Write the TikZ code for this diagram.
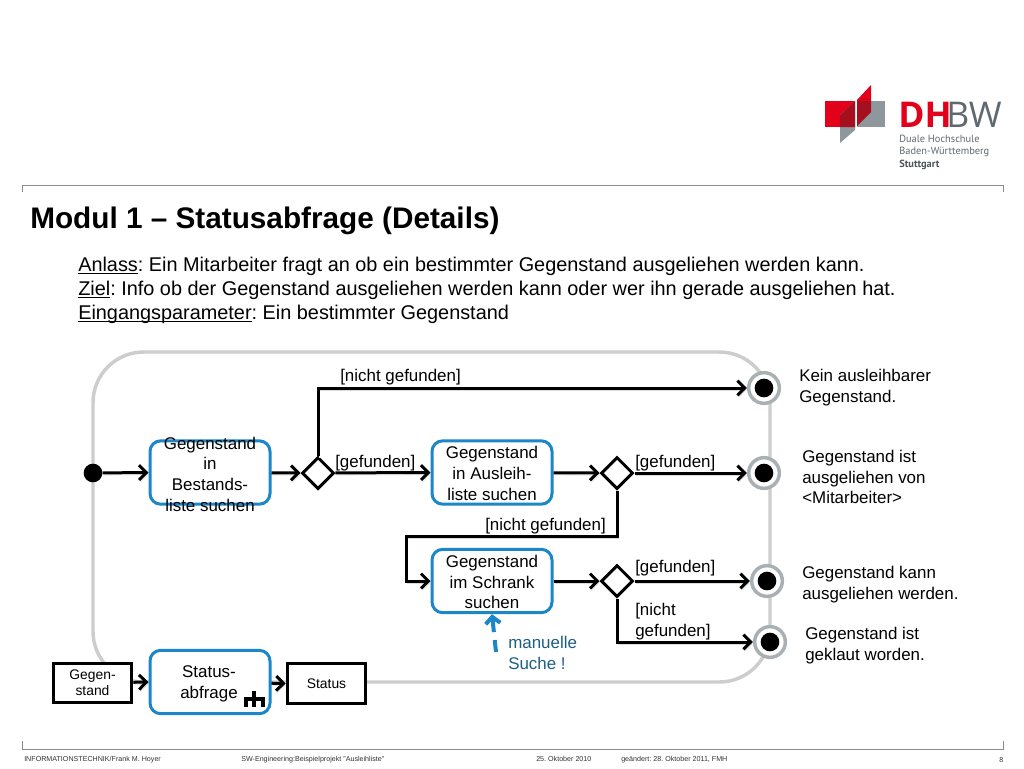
\documentclass[tikz,border=0pt]{standalone}
\usepackage{fontspec}
\setmainfont{Liberation Sans}
\newfontfamily\logofont{Open Sans}
\newfontfamily\logosub{PT Sans}
\usetikzlibrary{arrows.meta,shapes.geometric}
\newcommand{\fsz}[2]{\fontsize{#1}{#2}\selectfont}
\newcommand{\ulflat}[1]{{\setbox0\hbox{#1}\dp0=0pt \underline{\box0}}}
\definecolor{frameg}{HTML}{CDCDCD}
\definecolor{ringg}{HTML}{A9B0B4}
\definecolor{boxblue}{HTML}{1B87C9}
\definecolor{noteblue}{HTML}{1D5F83}
\definecolor{dhred}{HTML}{E2001A}
\definecolor{dhdark}{HTML}{A50F1E}
\definecolor{dhgray}{HTML}{8E979C}
\definecolor{logotxt}{HTML}{5F6A70}
\tikzset{
  x=0.75pt,y=-0.75pt,
  activity/.style={draw=boxblue,line width=2.25pt,rounded corners=8pt,fill=white,inner sep=0pt,minimum width=90pt,minimum height=47.5pt},
  acttext/.style={align=center,inner sep=0pt,font=\fsz{12.7}{15.5}},
  objbox/.style={draw=black,line width=2.25pt,fill=white,align=center,inner sep=0pt,minimum width=59pt,minimum height=29.5pt,font=\fsz{10.4}{12.2}},
  decide/.style={draw=black,line width=2.25pt,diamond,aspect=1,fill=white,inner sep=0pt,minimum width=24pt,minimum height=24pt},
  startdot/.style={circle,fill=black,inner sep=0pt,minimum size=14pt},
  finalring/.style={circle,draw=ringg,line width=2.6pt,fill=white,inner sep=0pt,minimum size=23pt},
  finaldot/.style={circle,fill=black,inner sep=0pt,minimum size=14pt},
  flow/.style={draw=black,line width=2.25pt,-{Straight Barb[length=5.5pt,width=11pt,line width=2.25pt]},
    preaction={draw=black!14,transform canvas={xshift=1pt,yshift=-1.6pt}}},
  lbl/.style={anchor=west,inner sep=0pt,align=left,font=\fsz{12.7}{15.7}},
  body/.style={anchor=base west,inner sep=0pt,font=\fsz{14.9}{17}},
  foot/.style={anchor=base west,inner sep=0pt,font=\fsz{5.35}{6},text=black!80},
  rule/.style={draw=black!45,line width=0.75pt},
}
\begin{document}
\frenchspacing
\begin{tikzpicture}
\useasboundingbox (0,0) rectangle (1024,768);
\fill[white] (0,0) rectangle (1024,768);
% header and footer rules
\draw[rule] (22,192) -- (22,185) -- (1003,185) -- (1003,192);
\draw[rule] (22,741) -- (22,749) -- (1003,749) -- (1003,741);
% logo
\fill[dhred] (825,101) rectangle (855,127);
\fill[dhgray] (857,101) rectangle (885,127);
\fill[dhgray] (840,115) -- (855,101) -- (855,130) -- (840,143) -- cycle;
\fill[dhdark] (840,115) -- (855,101) -- (855,127) -- (840,127) -- cycle;
\fill[dhred] (857,100) -- (871,85) -- (871,101) -- (857,101) -- cycle;
\fill[dhdark] (857,101) -- (871,101) -- (871,112) -- (857,126) -- cycle;
\node[anchor=base west,inner sep=0pt,text=dhred] (logoDH) at (898,127) {\logofont\fsz{26.6}{27}\bfseries DH};
\node[anchor=base west,inner sep=0pt,text=logotxt] (logoBW) at (946,127) {\logofont\fsz{26.6}{27}BW};
\node[anchor=west,inner sep=0pt,text=logotxt] (logoA) at (899,139) {\logosub\fsz{7.8}{10}Duale Hochschule};
\node[anchor=west,inner sep=0pt,text=logotxt] (logoB) at (899,152) {\logosub\fsz{7.8}{10}Baden-Württemberg};
\node[anchor=west,inner sep=0pt,text=logotxt!80!black] (logoC) at (899,165) {\logosub\fsz{7.8}{10}\bfseries Stuttgart};
% title and text
\node[anchor=base west,inner sep=0pt,font=\fsz{22.3}{25}\bfseries] (title) at (30,228) {Modul 1 – Statusabfrage (Details)};
\node[body] (t1) at (78,271) {\ulflat{Anlass}: Ein Mitarbeiter fragt an ob ein bestimmter Gegenstand ausgeliehen werden kann.};
\node[body] (t2) at (78,295) {\ulflat{Ziel}: Info ob der Gegenstand ausgeliehen werden kann oder wer ihn gerade ausgeliehen hat.};
\node[body] (t3) at (78,319) {\ulflat{Eingangsparameter}: Ein bestimmter Gegenstand};
% frame
\draw[frameg,line width=2.6pt,rounded corners=38pt] (93,352) rectangle (770,682);
% nodes
\node[startdot] (s) at (93,473) {};
\node[activity] (b1) at (210,472.5) {};
\node[acttext] (b1t) at (210,474) {Gegenstand\\in\\Bestands-\\liste suchen};
\node[decide] (d1) at (318,473) {};
\node[activity] (b2) at (492,472.5) {};
\node[acttext] (b2t) at (492,473.5) {Gegenstand\\in Ausleih-\\liste suchen};
\node[decide] (d2) at (617,473) {};
\node[activity] (b3) at (492,581) {};
\node[acttext] (b3t) at (492,582) {Gegenstand\\im Schrank\\suchen};
\node[decide] (d3) at (617,581) {};
\node[finalring] (e1) at (764,388) {};
\node[finaldot] at (e1.center) (e1i) {};
\node[finalring] (e2) at (764,473) {};
\node[finaldot] at (e2.center) (e2i) {};
\node[finalring] (e3) at (767,581) {};
\node[finaldot] at (e3.center) (e3i) {};
\node[finalring] (e4) at (770,642) {};
\node[finaldot] at (e4.center) (e4i) {};
\node[objbox] (in) at (92.5,683) {Gegen-\\stand};
\node[activity] (sa) at (210,682) {};
\node[acttext] (sat) at (209,684) {Status-\\abfrage};
\node[objbox] (out) at (326.5,683.5) {Status};
\coordinate (c1) at (406,536);
\coordinate (m) at (496,652);
% connectors
\draw[flow] (s) -- (b1.west);
\draw[flow] (b1) -- (d1.west);
\draw[flow] (d1) -- (b2.west);
\draw[flow] (b2) -- (d2.west);
\draw[flow] (d2) -- (e2.west);
\draw[flow] (b3) -- (d3.west);
\draw[flow] (d3) -- (e3.west);
\draw[flow] (d1.north) |- (e1.west);
\draw[flow] (d2.south) |- (c1) |- (b3.west);
\draw[flow] (d3.south) |- (e4.west);
\draw[flow] (in) -- (sa.west);
\draw[flow] (sa) -- (out.west);
\draw[draw=boxblue,line width=3pt,dash pattern=on 9pt off 6pt on 30pt,-{Straight Barb[length=5pt,width=11pt,line width=3pt]}] (m) -- (b3.south);
% rake
\draw[black,line width=2.4pt] (254,691) -- (254,706.5) (246,706.5) -- (246,699) -- (263,699) -- (263,706.5);
% labels
\node[lbl] (l1) at (340,377) {[nicht gefunden]};
\node[lbl] (l2) at (335,463) {[gefunden]};
\node[lbl] (l3) at (635,463) {[gefunden]};
\node[lbl] (l4) at (485,526) {[nicht gefunden]};
\node[lbl] (l5) at (635,568) {[gefunden]};
\node[lbl] (l6) at (635,622) {[nicht\\gefunden]};
\node[lbl,text=noteblue] (l7) at (508,653) {manuelle\\Suche !};
\node[lbl] (r1) at (799,388) {Kein ausleihbarer\\Gegenstand.};
\node[lbl] (r2) at (802,477) {Gegenstand ist\\ausgeliehen von\\<Mitarbeiter>};
\node[lbl] (r3) at (802,585) {Gegenstand kann\\ausgeliehen werden.};
\node[lbl] (r4) at (805,646) {Gegenstand ist\\geklaut worden.};
% footer
\node[foot] (f1) at (24,761) {INFORMATIONSTECHNIK/Frank M. Hoyer};
\node[foot] (f2) at (241,761) {SW-Engineering:Beispielprojekt "Ausleihliste"};
\node[foot] (f3) at (536,761) {25. Oktober 2010};
\node[foot] (f4) at (621,761) {geändert: 28. Oktober 2011, FMH};
\node[foot] (f5) at (999,762) {8};
\end{tikzpicture}
\end{document}
